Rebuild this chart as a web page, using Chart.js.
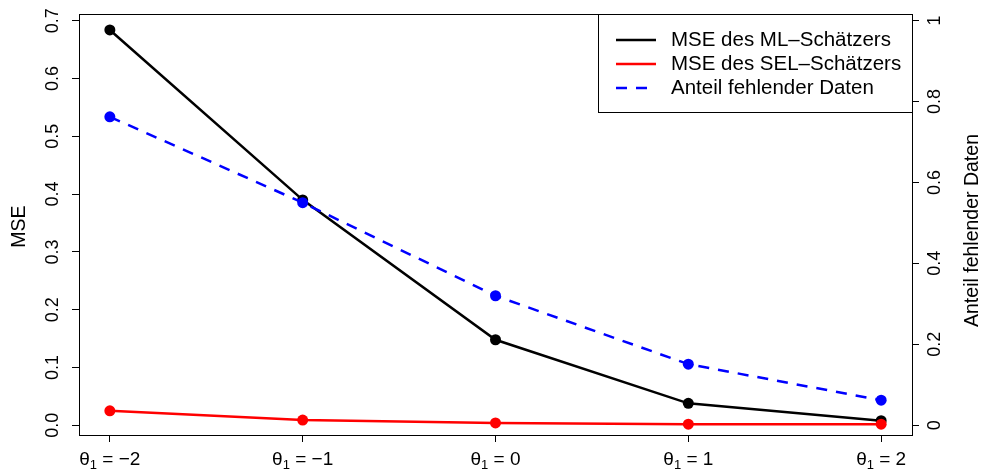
<!DOCTYPE html>
<html>
<head>
<meta charset="utf-8">
<script src="https://cdn.jsdelivr.net/npm/chart.js@4/dist/chart.umd.min.js"></script>
<style>
  html, body { margin: 0; padding: 0; background: #fff; }
  canvas { display: block; }
</style>
</head>
<body>
<canvas id="chart" width="985" height="473"></canvas>
<script>
// data
const thetaValues = [-2, -1, 0, 1, 2];
const thetaLabels = ["\u22122", "\u22121", "0", "1", "2"];
const mseML = [0.684, 0.390, 0.148, 0.038, 0.008];
const mseSEL = [0.025, 0.009, 0.004, 0.002, 0.002];
const missingShare = [0.762, 0.550, 0.320, 0.151, 0.062];

const leftTicks = [0, 0.1, 0.2, 0.3, 0.4, 0.5, 0.6, 0.7];
const leftTickLabels = ["0.0", "0.1", "0.2", "0.3", "0.4", "0.5", "0.6", "0.7"];
const rightTicks = [0, 0.2, 0.4, 0.6, 0.8, 1];
const rightTickLabels = ["0", "0.2", "0.4", "0.6", "0.8", "1"];

const legendItems = [
  { text: "MSE des ML\u2013Sch\u00e4tzers", color: "#000000", dash: [] },
  { text: "MSE des SEL\u2013Sch\u00e4tzers", color: "#ff0000", dash: [] },
  { text: "Anteil fehlender Daten", color: "#0000ff", dash: [11, 9] }
];

const FONT = '"Liberation Sans", Arial, Helvetica, sans-serif';

function toPoints(values) {
  return thetaValues.map((t, i) => ({ x: t, y: values[i] }));
}

// tick labels, box, titles and legend drawn in R style
const rStyle = {
  id: "rStyle",
  afterDraw(chart) {
    const ctx = chart.ctx;
    const area = chart.chartArea;
    const x = chart.scales.x;
    const yL = chart.scales.yL;
    const yR = chart.scales.yR;
    ctx.save();
    ctx.fillStyle = "#000";
    ctx.strokeStyle = "#000";

    // box
    ctx.lineWidth = 1;
    ctx.strokeRect(Math.round(area.left) + 0.5, Math.round(area.top) + 0.5,
      Math.round(area.right - area.left), Math.round(area.bottom - area.top));

    // rotated y tick labels
    ctx.font = "18px " + FONT;
    ctx.textAlign = "center";
    ctx.textBaseline = "middle";
    leftTicks.forEach((v, i) => {
      ctx.save();
      ctx.translate(53, yL.getPixelForValue(v));
      ctx.rotate(-Math.PI / 2);
      ctx.fillText(leftTickLabels[i], 0, 0);
      ctx.restore();
    });
    rightTicks.forEach((v, i) => {
      ctx.save();
      ctx.translate(935, yR.getPixelForValue(v));
      ctx.rotate(-Math.PI / 2);
      ctx.fillText(rightTickLabels[i], 0, 0);
      ctx.restore();
    });

    // axis titles
    const midY = (area.top + area.bottom) / 2;
    ctx.font = "19.5px " + FONT;
    ctx.save();
    ctx.translate(20, midY + 2);
    ctx.rotate(-Math.PI / 2);
    ctx.fillText("MSE", 0, 0);
    ctx.restore();
    ctx.save();
    ctx.translate(973, midY + 6);
    ctx.rotate(-Math.PI / 2);
    ctx.fillText("Anteil fehlender Daten", 0, 0);
    ctx.restore();

    // x labels: theta with subscript 1
    const base = 469;
    thetaValues.forEach((t, i) => {
      const big = "19px " + FONT;
      const small = "13px " + FONT;
      ctx.font = big;
      const wTheta = ctx.measureText("\u03b8").width;
      const rest = " = " + thetaLabels[i];
      const wRest = ctx.measureText(rest).width;
      ctx.font = small;
      const wSub = ctx.measureText("1").width;
      const total = wTheta + wSub + wRest;
      let px = x.getPixelForValue(t) - total / 2;
      ctx.textAlign = "left";
      ctx.textBaseline = "alphabetic";
      ctx.font = big;
      ctx.fillText("\u03b8", px, base - 4);
      px += wTheta;
      ctx.font = small;
      ctx.fillText("1", px, base);
      px += wSub;
      ctx.font = big;
      ctx.fillText(rest, px, base - 4);
    });

    // legend
    const lx = 598, ly = 14, lw = Math.round(area.right) - 598, lh = 98;
    ctx.fillStyle = "#fff";
    ctx.fillRect(lx, ly, lw, lh);
    ctx.lineWidth = 1;
    ctx.strokeRect(lx + 0.5, ly + 0.5, lw, lh);
    ctx.font = "20.5px " + FONT;
    ctx.textAlign = "left";
    ctx.textBaseline = "middle";
    legendItems.forEach((item, i) => {
      const yy = 40 + i * 24;
      ctx.strokeStyle = item.color;
      ctx.lineWidth = 2.5;
      ctx.setLineDash(item.dash);
      ctx.beginPath();
      ctx.moveTo(616, yy);
      ctx.lineTo(656, yy);
      ctx.stroke();
      ctx.setLineDash([]);
      ctx.fillStyle = "#000";
      ctx.fillText(item.text, 671, yy);
    });
    ctx.restore();
  }
};

function series(label, values, color, axis, dash, order) {
  return {
    label,
    data: toPoints(values),
    yAxisID: axis,
    borderColor: color,
    backgroundColor: color,
    borderWidth: 2.5,
    borderDash: dash,
    pointRadius: 5.5,
    pointHoverRadius: 5.5,
    pointBorderWidth: 0,
    tension: 0,
    order
  };
}

const tickGrid = { drawOnChartArea: false, drawTicks: true, tickLength: 7, color: "#000", lineWidth: 1 };

new Chart(document.getElementById("chart"), {
  type: "line",
  data: {
    datasets: [
      series("MSE des ML-Schätzers", mseML, "#000000", "yL", [], 3),
      series("MSE des SEL-Schätzers", mseSEL, "#ff0000", "yL", [], 2),
      series("Anteil fehlender Daten", missingShare, "#0000ff", "yR", [11, 9], 1)
    ]
  },
  options: {
    responsive: false,
    animation: false,
    layout: { padding: { top: 14, left: 0, right: 0, bottom: 0 } },
    plugins: { legend: { display: false }, tooltip: { enabled: false } },
    scales: {
      x: {
        type: "linear",
        min: -2.16,
        max: 2.16,
        grid: tickGrid,
        border: { display: false },
        ticks: { display: false },
        afterBuildTicks: s => { s.ticks = thetaValues.map(v => ({ value: v })); },
        afterFit: s => { s.height = 38; }
      },
      yL: {
        type: "linear",
        position: "left",
        min: -0.0168,
        max: 0.7116,
        grid: tickGrid,
        border: { display: false },
        ticks: { display: false },
        afterBuildTicks: s => { s.ticks = leftTicks.map(v => ({ value: v })); },
        afterFit: s => { s.width = 79; }
      },
      yR: {
        type: "linear",
        position: "right",
        min: -0.024,
        max: 1.016,
        grid: tickGrid,
        border: { display: false },
        ticks: { display: false },
        afterBuildTicks: s => { s.ticks = rightTicks.map(v => ({ value: v })); },
        afterFit: s => { s.width = 73; }
      }
    }
  },
  plugins: [rStyle]
});
</script>
</body>
</html>
